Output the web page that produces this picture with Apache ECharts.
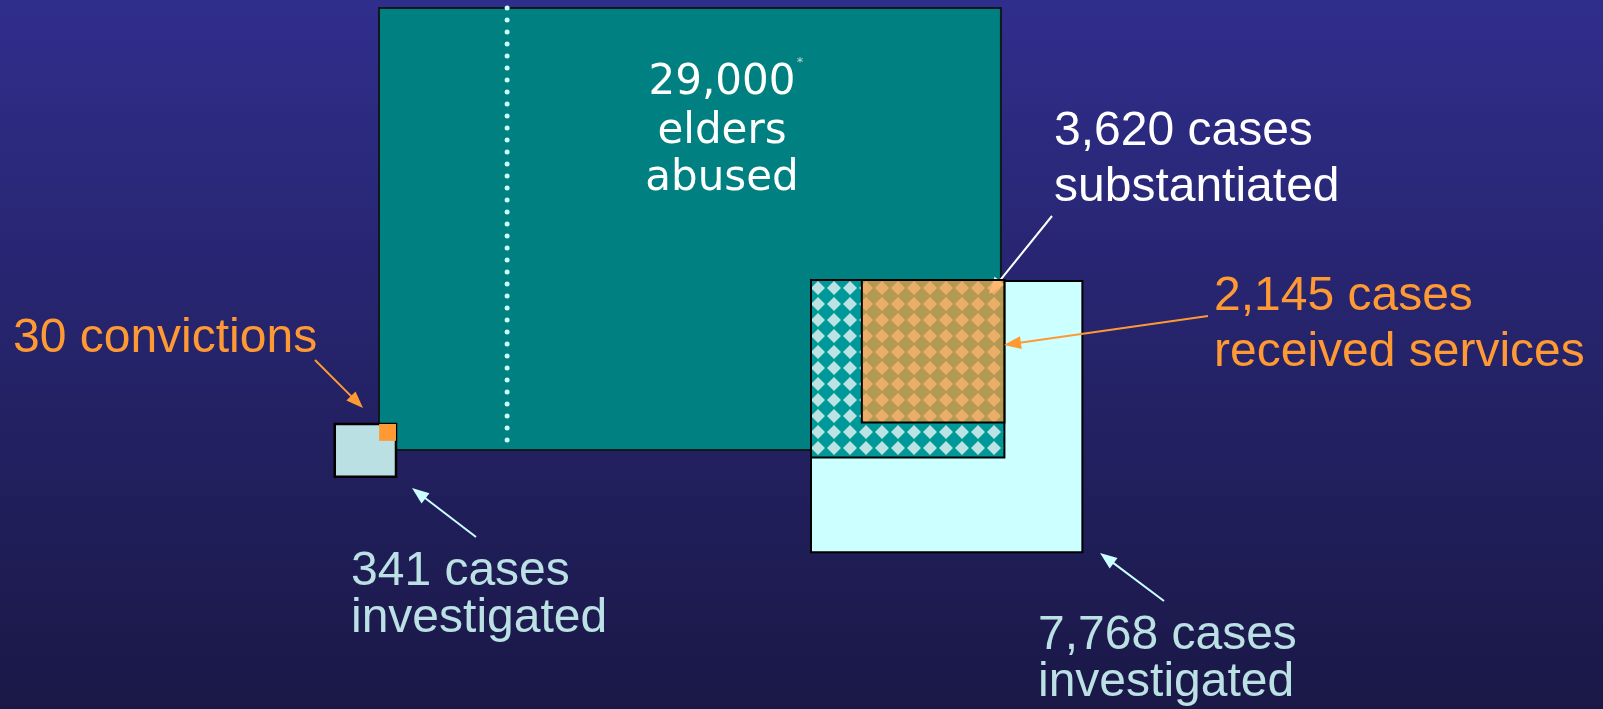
<!DOCTYPE html>
<html><head><meta charset="utf-8">
<script src="https://cdn.jsdelivr.net/npm/echarts@6/dist/echarts.min.js"></script>
<style>html,body{margin:0;padding:0;background:#25236a}#c{width:1603px;height:709px}</style>
</head><body><div id="c"></div>
<script>
// ---------- data ----------
const boxNames  = ['elders abused', 'cases investigated (APS)', 'cases substantiated', 'cases received services', 'cases investigated (law enforcement)', 'convictions'];
const boxValues = [29000, 7768, 3620, 2145, 341, 30];
const labelBig      = ['29,000', 'elders', 'abused'];
const labelAPS      = ['7,768 cases', 'investigated'];
const labelSubst    = ['3,620 cases', 'substantiated'];
const labelServices = ['2,145 cases', 'received services'];
const labelPolice   = ['341 cases', 'investigated'];
const labelConv     = ['30 convictions'];

// ---------- layout (sizes come from values: area proportional) ----------
const PX2_PER_CASE = 9.48;
const layout = [
  { anchor: [379, 8],   corner: 'tl', aspect: 1.407 },
  { anchor: [811, 281], corner: 'tl', aspect: 1.0 },
  { anchor: [811, 280], corner: 'tl', aspect: 1.09 },
  { ref: 2, corner: 'tr', aspect: 1.0 },
  { anchor: [396, 424], corner: 'tr', aspect: 1.16 },
  { ref: 4, corner: 'tr', aspect: 1.0 }
];
const DOT_FRACTION = 0.206;

function makeTile() {
  const c = document.createElement('canvas'); c.width = 16; c.height = 16;
  const g = c.getContext('2d');
  g.fillStyle = '#009999'; g.fillRect(0, 0, 16, 16);
  g.fillStyle = '#bde2e4';
  const ox = 2, oy = 0, r = 7;
  for (let i = -1; i <= 1; i++) for (let j = -1; j <= 1; j++) {
    const cx = ox + 16 * i, cy = oy + 16 * j;
    g.beginPath(); g.moveTo(cx, cy - r); g.lineTo(cx + r, cy); g.lineTo(cx, cy + r); g.lineTo(cx - r, cy); g.closePath(); g.fill();
  }
  return c;
}
const tile = makeTile();

const styles = [
  { fill: '#008080', stroke: '#0b1b1b', lw: 2 },
  { fill: '#ccffff', stroke: '#000000', lw: 2 },
  { fill: { image: tile, repeat: 'repeat' }, stroke: '#000000', lw: 2 },
  { fill: 'rgba(255,153,51,0.70)', stroke: '#000000', lw: 2 },
  { fill: '#bbe0e3', stroke: '#000000', lw: 2.5 },
  { fill: '#ff9933', stroke: null, lw: 0 }
];

const rects = [];
function boxRect(i) {
  if (rects[i]) return rects[i];
  const L = layout[i];
  const area = boxValues[i] * PX2_PER_CASE;
  const w = Math.sqrt(area * L.aspect), h = Math.sqrt(area / L.aspect);
  let ax, ay;
  if (L.ref !== undefined) { const R = boxRect(L.ref); ax = R.x1; ay = R.y0; }
  else { ax = L.anchor[0]; ay = L.anchor[1]; }
  const x0 = L.corner === 'tl' ? ax : ax - w;
  rects[i] = { x0: x0, y0: ay, x1: x0 + w, y1: ay + h };
  return rects[i];
}

function renderBox(params, api) {
  const i = api.value(0);
  const R = boxRect(i);
  const p0 = api.coord([R.x0, R.y0]);
  const p1 = api.coord([R.x1, R.y1]);
  const S = styles[i];
  const children = [{
    type: 'rect', z2: i,
    shape: { x: Math.min(p0[0], p1[0]), y: Math.min(p0[1], p1[1]), width: Math.abs(p1[0] - p0[0]), height: Math.abs(p1[1] - p0[1]) },
    style: { fill: S.fill, stroke: S.stroke, lineWidth: S.lw }
  }];
  if (i === 0) {
    const dx = R.x0 + DOT_FRACTION * (R.x1 - R.x0);
    const q0 = api.coord([dx, R.y0]), q1 = api.coord([dx, R.y1]);
    children.push({
      type: 'line', z2: 0.5,
      shape: { x1: q0[0], y1: q0[1], x2: q1[0], y2: q1[1] },
      style: { stroke: '#ccffff', lineWidth: 5, lineDash: [0.1, 11.9], lineCap: 'round' }
    });
  }
  return { type: 'group', children: children };
}

function arrow(x1, y1, x2, y2, color, z) {
  const dx = x2 - x1, dy = y2 - y1, len = Math.hypot(dx, dy), ux = dx / len, uy = dy / len;
  const hl = 17, hw = 6.5;
  const bx = x2 - ux * hl, by = y2 - uy * hl;
  return [
    { type: 'line', z: z, shape: { x1: x1, y1: y1, x2: bx + ux * 3, y2: by + uy * 3 }, style: { stroke: color, lineWidth: 2 } },
    { type: 'polygon', z: z, shape: { points: [[x2, y2], [bx - uy * hw, by + ux * hw], [bx + uy * hw, by - ux * hw]] }, style: { fill: color } }
  ];
}

function textLines(lines, x, baselines, size, color, family, align, shift) {
  return lines.map((t, k) => ({
    type: 'text', z: 10,
    style: { text: t, x: x, y: baselines[k] - 0.3465 * size + shift, fill: color, font: size + 'px "' + family + '"', align: align || 'left', verticalAlign: 'middle' }
  }));
}

const ORANGE = '#ff9933', LIGHT = '#bbe1e5', WHITE = '#ffffff';
const ARIAL = 'Liberation Sans';

const graphics = [].concat(
  arrow(1052, 216, 989, 294, WHITE, 3),
  arrow(315, 360, 363, 408, ORANGE, 10),
  arrow(476, 537, 412, 488, '#ccffff', 10),
  arrow(1164, 601, 1100, 553, '#ccffff', 10),
  arrow(1208, 316, 1004, 345, ORANGE, 10),
  textLines(labelBig, 722, [92, 141, 188], 42, WHITE, 'DejaVu Sans', 'center', 6),
  [{ type: 'text', z: 10, style: { text: '*', x: 800, y: 63, fill: '#c8d8d8', font: '13px "DejaVu Sans"', align: 'center', verticalAlign: 'middle' } }],
  textLines(labelSubst, 1054, [145, 201.5], 48, WHITE, ARIAL, 'left', 3),
  textLines(labelServices, 1214, [310, 366], 48, ORANGE, ARIAL, 'left', 3),
  textLines(labelConv, 13, [352.7], 48, ORANGE, ARIAL, 'left', 3),
  textLines(labelPolice, 351, [585, 632], 48, LIGHT, ARIAL, 'left', 3),
  textLines(labelAPS, 1038, [649, 696.5], 48, LIGHT, ARIAL, 'left', 3)
);

const chart = echarts.init(document.getElementById('c'), null, { renderer: 'canvas' });
chart.setOption({
  animation: false,
  backgroundColor: { type: 'linear', x: 0, y: 0, x2: 0, y2: 1, colorStops: [{ offset: 0, color: '#302e8c' }, { offset: 1, color: '#1a1846' }] },
  grid: { left: 0, right: 0, top: 0, bottom: 0 },
  xAxis: { type: 'value', min: 0, max: 1603, show: false },
  yAxis: { type: 'value', min: 0, max: 709, inverse: true, show: false },
  series: [
    { type: 'custom', name: 'lower', z: 2, renderItem: renderBox, data: [0, 1, 2].map(i => [i, boxValues[i], boxNames[i]]), encode: { x: 0, y: 1 }, silent: true },
    { type: 'custom', name: 'upper', z: 4, renderItem: renderBox, data: [3, 4, 5].map(i => [i, boxValues[i], boxNames[i]]), encode: { x: 0, y: 1 }, silent: true }
  ],
  graphic: { elements: graphics }
});
</script></body></html>
